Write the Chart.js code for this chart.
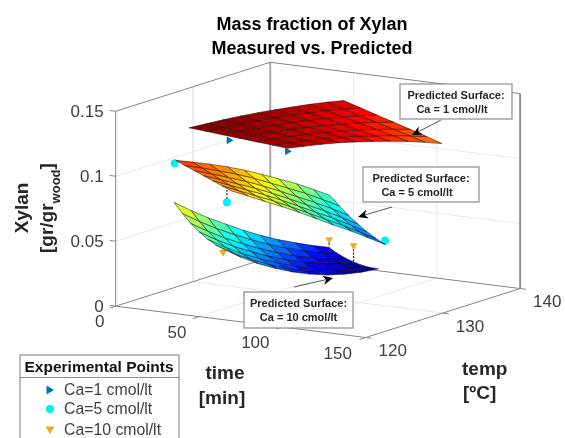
<!DOCTYPE html>
<html>
<head>
<meta charset="utf-8">
<title>Mass fraction of Xylan</title>
<script src="https://cdn.jsdelivr.net/npm/chart.js@4"></script>
<style>
  html, body { margin: 0; padding: 0; background: #fff; }
  canvas { display: block; filter: blur(0.6px); }
</style>
</head>
<body>
<canvas id="xylanChart" width="565" height="438"></canvas>
<script>
// axis ticks
const timeTicks = [0, 50, 100, 150];
const tempTicks = [120, 130, 140];
const xylanTicks = [0, 0.05, 0.1, 0.15];
const xylanTickLabels = ['0', '0.05', '0.1', '0.15'];

// surface grids, rows follow time, columns follow temp
const tempGrid = [120, 122.2, 124.4, 126.7, 128.9, 131.1, 133.3, 135.6, 137.8, 140];
const timeCa1 = [44, 54, 64, 74, 84, 94, 103];
const timeCa5 = [36, 41.5, 47, 52.5, 58, 63.5, 69];
const timeCa10 = [35, 40, 45, 50, 55, 60, 65];

const xylanCa1 = [
  [.1443, .1433, .1422, .1408, .1392, .1373, .1352, .1330, .1305, .1277],
  [.1433, .1422, .1407, .1390, .1371, .1349, .1325, .1298, .1270, .1238],
  [.1422, .1408, .1390, .1371, .1349, .1324, .1297, .1266, .1233, .1198],
  [.1412, .1395, .1376, .1353, .1328, .1300, .1269, .1236, .1198, .1159],
  [.1401, .1382, .1359, .1333, .1305, .1274, .1240, .1202, .1162, .1119],
  [.1391, .1369, .1344, .1316, .1285, .1250, .1212, .1170, .1127, .1080],
  [.1380, .1355, .1328, .1297, .1262, .1224, .1184, .1139, .1091, .1040]
];
const xylanCa5 = [
  [.1180, .1125, .1068, .1004, .0937, .0864, .0788, .0707, .0622, .0533],
  [.1150, .1089, .1026, .0957, .0884, .0806, .0726, .0642, .0554, .0462],
  [.1120, .1054, .0984, .0911, .0834, .0753, .0669, .0582, .0493, .0398],
  [.1090, .1019, .0944, .0867, .0787, .0703, .0617, .0528, .0436, .0341],
  [.1060, .0984, .0906, .0826, .0743, .0656, .0568, .0478, .0385, .0290],
  [.1030, .0950, .0871, .0787, .0701, .0614, .0525, .0433, .0341, .0246],
  [.1000, .0918, .0835, .0750, .0664, .0575, .0485, .0395, .0302, .0209]
];
const xylanCa10 = [
  [.0855, .0751, .0654, .0562, .0475, .0394, .0320, .0252, .0189, .0132],
  [.0778, .0676, .0580, .0491, .0409, .0333, .0264, .0201, .0145, .0096],
  [.0710, .0609, .0515, .0429, .0350, .0278, .0213, .0157, .0109, .0066],
  [.0653, .0553, .0460, .0376, .0299, .0232, .0172, .0122, .0078, .0044],
  [.0605, .0505, .0413, .0331, .0258, .0193, .0138, .0092, .0055, .0027],
  [.0568, .0468, .0377, .0296, .0225, .0163, .0112, .0071, .0040, .0018],
  [.0540, .0440, .0349, .0269, .0200, .0142, .0094, .0057, .0031, .0015]
];

// experimental points
const pointTimeCa1 = [68, 103];
const pointTempCa1 = [120, 120];
const pointXylanCa1 = [0.1386, 0.1357];
const stemXylanCa1 = [0.1405, 0.1380];

const pointTimeCa5 = [35.4, 66.7, 69];
const pointTempCa5 = [120, 120, 140];
const pointXylanCa5 = [0.1157, 0.0907, 0.0239];
const stemXylanCa5 = [0.1185, 0.1000, 0.0209];

const pointTimeCa10 = [64.4, 35.4, 50];
const pointTempCa10 = [120, 140, 140];
const pointXylanCa10 = [0.0518, 0.0193, 0.0171];
const stemXylanCa10 = [0.0540, 0.0132, 0.0050];

const legendLabels = ['Ca=1 cmol/lt', 'Ca=5 cmol/lt', 'Ca=10 cmol/lt'];
const markerColors = ['#0072BD', '#00F0F5', '#EDA822'];

// fixed 3D view of the box, gives page position for time/temp/xylan
function project(time, temp, xylan) {
  return {
    x: 113 + 254 * time / 150 + 157 * (temp - 120) / 20,
    y: 308 + 32 * time / 150 - 50 * (temp - 120) / 20 - 199 * xylan / 0.15
  };
}

// MATLAB jet colormap
function jet(v) {
  const f = Math.max(0, Math.min(1, v));
  const chan = c => Math.round(255 * Math.max(0, Math.min(1, 1.5 - Math.abs(4 * f - c))));
  return `rgb(${chan(3)},${chan(2)},${chan(1)})`;
}

const colorMax = 0.145;
const datasets = [];

function addLine(points, color, width, order, dash) {
  datasets.push({
    data: points,
    showLine: true,
    fill: false,
    borderColor: color,
    borderWidth: width,
    borderDash: dash || [],
    pointRadius: 0,
    tension: 0,
    order: order
  });
}

function addSurface(times, temps, values) {
  for (let i = 0; i < times.length - 1; i++) {
    for (let j = 0; j < temps.length - 1; j++) {
      datasets.push({
        data: [
          project(times[i], temps[j], values[i][j]),
          project(times[i + 1], temps[j], values[i + 1][j]),
          project(times[i + 1], temps[j + 1], values[i + 1][j + 1]),
          project(times[i], temps[j + 1], values[i][j + 1]),
          project(times[i], temps[j], values[i][j])
        ],
        showLine: true,
        fill: 'shape',
        // flat shading takes the colour of the first corner
        backgroundColor: jet(values[i][j] / colorMax),
        borderColor: 'rgba(20,10,10,0.7)',
        borderWidth: 0.7,
        pointRadius: 0,
        tension: 0,
        order: 1
      });
    }
  }
}

function addPoints(times, temps, values, stems, color, style, rotation, radius) {
  times.forEach((t, i) => {
    addLine([project(t, temps[i], values[i]), project(t, temps[i], stems[i])], '#222', 1.2, 3, [2, 1.5]);
  });
  datasets.push({
    data: times.map((t, i) => project(t, temps[i], values[i])),
    showLine: false,
    backgroundColor: color,
    borderColor: color,
    borderWidth: 0,
    pointStyle: style,
    pointRotation: rotation,
    pointRadius: radius,
    order: 2
  });
}

// grid lines on the walls and the floor
const gridColor = '#e8e8e8';
const edgeColor = '#858585';
xylanTicks.slice(1, 3).forEach(z => {
  addLine([project(0, 120, z), project(0, 140, z), project(150, 140, z)], gridColor, 1, 6);
});
timeTicks.slice(1, 3).forEach(t => {
  addLine([project(t, 120, 0), project(t, 140, 0), project(t, 140, 0.15)], gridColor, 1, 6);
});
addLine([project(0, 130, 0.15), project(0, 130, 0), project(150, 130, 0)], gridColor, 1, 6);

// box edges
addLine([project(0, 120, 0), project(0, 120, 0.15), project(0, 140, 0.15), project(150, 140, 0.15), project(150, 140, 0)], edgeColor, 1, 5);
addLine([project(0, 120, 0), project(150, 120, 0), project(150, 140, 0), project(0, 140, 0), project(0, 120, 0)], edgeColor, 1, 5);
addLine([project(0, 140, 0), project(0, 140, 0.15)], '#a8a8a8', 2, 5);

// tick marks
xylanTicks.forEach(z => addLine([project(0, 120, z), project(-3.6, 120, z)], edgeColor, 1, 5));
timeTicks.forEach(t => addLine([project(t, 120, 0), project(t, 119.2, 0)], edgeColor, 1, 5));
tempTicks.forEach(T => addLine([project(150, T, 0), project(153.6, T, 0)], edgeColor, 1, 5));

addSurface(timeCa1, tempGrid, xylanCa1);
addSurface(timeCa5, tempGrid, xylanCa5);
addSurface(timeCa10, tempGrid, xylanCa10);

addPoints(pointTimeCa1, pointTempCa1, pointXylanCa1, stemXylanCa1, markerColors[0], 'triangle', 90, 4.5);
addPoints(pointTimeCa5, pointTempCa5, pointXylanCa5, stemXylanCa5, markerColors[1], 'circle', 0, 4);
addPoints(pointTimeCa10, pointTempCa10, pointXylanCa10, stemXylanCa10, markerColors[2], 'triangle', 180, 4.5);

function put(ctx, text, x, y, font, color, align) {
  ctx.font = font;
  ctx.fillStyle = color;
  ctx.textAlign = align || 'center';
  ctx.textBaseline = 'middle';
  ctx.fillText(text, x, y + 1);
}

function drawNote(ctx, box, lines, arrow) {
  ctx.fillStyle = '#fff';
  ctx.strokeStyle = '#8c8c8c';
  ctx.lineWidth = 1.2;
  ctx.fillRect(box.x, box.y, box.w, box.h);
  ctx.strokeRect(box.x, box.y, box.w, box.h);
  put(ctx, lines[0], box.x + box.w / 2, box.y + 11, 'bold 11px "Liberation Sans"', '#262626');
  put(ctx, lines[1], box.x + box.w / 2 - box.shift, box.y + 25, 'bold 11px "Liberation Sans"', '#262626');

  // arrow with a stealth head
  const ang = Math.atan2(arrow.y2 - arrow.y1, arrow.x2 - arrow.x1);
  ctx.strokeStyle = '#555';
  ctx.lineWidth = 1;
  ctx.beginPath();
  ctx.moveTo(arrow.x1, arrow.y1);
  ctx.lineTo(arrow.x2 - 6 * Math.cos(ang), arrow.y2 - 6 * Math.sin(ang));
  ctx.stroke();
  ctx.save();
  ctx.translate(arrow.x2, arrow.y2);
  ctx.rotate(ang);
  ctx.fillStyle = '#000';
  ctx.beginPath();
  ctx.moveTo(0, 0);
  ctx.lineTo(-10, -4.5);
  ctx.lineTo(-7, 0);
  ctx.lineTo(-10, 4.5);
  ctx.closePath();
  ctx.fill();
  ctx.restore();
}

function drawMarker(ctx, kind, x, y) {
  ctx.fillStyle = markerColors[kind];
  ctx.beginPath();
  if (kind === 0) {
    ctx.moveTo(x - 3.5, y - 4.5);
    ctx.lineTo(x + 4, y);
    ctx.lineTo(x - 3.5, y + 4.5);
  } else if (kind === 1) {
    ctx.arc(x, y, 4, 0, Math.PI * 2);
  } else {
    ctx.moveTo(x - 4.5, y - 3.5);
    ctx.lineTo(x + 4.5, y - 3.5);
    ctx.lineTo(x, y + 4);
  }
  ctx.closePath();
  ctx.fill();
}

const textPlugin = {
  id: 'textPlugin',
  afterDraw(chart) {
    const ctx = chart.ctx;
    const px = p => ({ x: chart.scales.x.getPixelForValue(p.x), y: chart.scales.y.getPixelForValue(p.y) });
    const tickFont = '17px "Liberation Sans"';
    const tickColor = '#404040';
    const labelFont = 'bold 19px "Liberation Sans"';
    const labelColor = '#262626';
    ctx.save();

    put(ctx, 'Mass fraction of Xylan', 312, 24, 'bold 18px "Liberation Sans"', '#000');
    put(ctx, 'Measured vs. Predicted', 312, 48, 'bold 18px "Liberation Sans"', '#000');

    xylanTicks.forEach((z, i) => {
      const p = px(project(0, 120, z));
      put(ctx, xylanTickLabels[i], p.x - 12, p.y, tickFont, tickColor, 'right');
    });
    const timeShift = [-16, -22, -27, -28];
    timeTicks.forEach((t, i) => {
      const p = px(project(t, 120, 0));
      put(ctx, String(t), p.x + timeShift[i], p.y + 15.5, tickFont, tickColor);
    });
    tempTicks.forEach(T => {
      const p = px(project(150, T, 0));
      put(ctx, String(T), p.x + 27, p.y + 13, tickFont, tickColor);
    });

    put(ctx, 'time', 225, 373, labelFont, labelColor);
    put(ctx, '[min]', 222, 398, labelFont, labelColor);
    put(ctx, 'temp', 462, 369, labelFont, labelColor, 'left');
    put(ctx, '[ºC]', 463, 393, labelFont, labelColor, 'left');

    // z label is rotated, with a subscript
    ctx.save();
    ctx.translate(22, 208);
    ctx.rotate(-Math.PI / 2);
    put(ctx, 'Xylan', 0, 0, labelFont, labelColor);
    ctx.restore();
    ctx.save();
    ctx.translate(47, 253);
    ctx.rotate(-Math.PI / 2);
    put(ctx, '[gr/gr', 0, 0, labelFont, labelColor, 'left');
    const w1 = ctx.measureText('[gr/gr').width;
    put(ctx, 'wood', w1, 8, 'bold 13px "Liberation Sans"', labelColor, 'left');
    const w2 = ctx.measureText('wood').width;
    put(ctx, ']', w1 + w2, 0, labelFont, labelColor, 'left');
    ctx.restore();

    drawNote(ctx, { x: 400, y: 84, w: 112, h: 35, shift: 4 }, ['Predicted Surface:', 'Ca = 1 cmol/lt'], { x1: 441, y1: 120, x2: 412, y2: 135 });
    drawNote(ctx, { x: 363, y: 167, w: 116, h: 35, shift: 4 }, ['Predicted Surface:', 'Ca = 5 cmol/lt'], { x1: 392, y1: 207, x2: 358, y2: 217 });
    drawNote(ctx, { x: 244, y: 292, w: 109, h: 36, shift: 0 }, ['Predicted Surface:', 'Ca = 10 cmol/lt'], { x1: 294, y1: 287, x2: 333, y2: 278 });

    // legend box runs off the bottom of the page
    ctx.fillStyle = '#fff';
    ctx.strokeStyle = '#8c8c8c';
    ctx.lineWidth = 1.2;
    ctx.fillRect(20, 355, 159, 90);
    ctx.strokeRect(20, 355, 159, 90);
    ctx.beginPath();
    ctx.moveTo(20, 377.5);
    ctx.lineTo(179, 377.5);
    ctx.stroke();
    put(ctx, 'Experimental Points', 99, 367, 'bold 15.5px "Liberation Sans"', '#111');
    const legendY = [390, 409, 430];
    legendLabels.forEach((label, i) => {
      drawMarker(ctx, i, 50, legendY[i]);
      put(ctx, label, 64, legendY[i], '15.8px "Liberation Sans"', tickColor, 'left');
    });

    ctx.restore();
  }
};

new Chart(document.getElementById('xylanChart'), {
  type: 'scatter',
  data: { datasets: datasets },
  plugins: [textPlugin],
  options: {
    responsive: false,
    animation: false,
    devicePixelRatio: 1,
    layout: { padding: 0 },
    plugins: {
      legend: { display: false },
      title: { display: false },
      tooltip: { enabled: false }
    },
    scales: {
      x: { type: 'linear', display: false, min: 0, max: 565 },
      y: { type: 'linear', display: false, min: 0, max: 438, reverse: true }
    }
  }
});
</script>
</body>
</html>
